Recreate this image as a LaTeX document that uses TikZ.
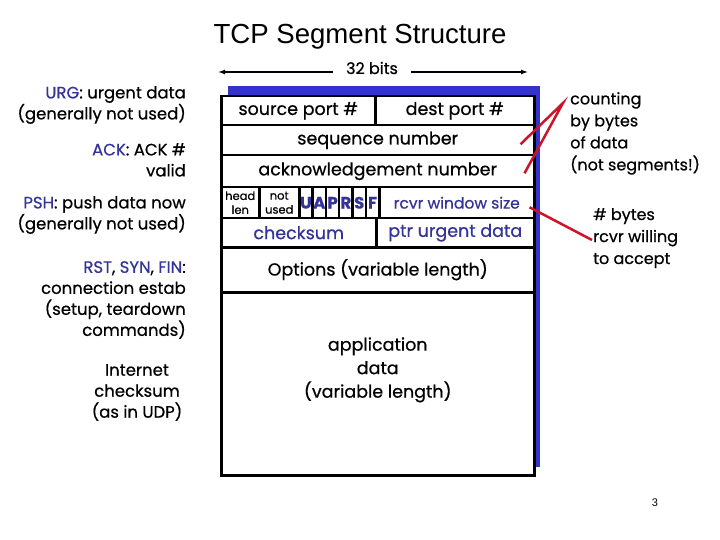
\documentclass[tikz,border=0pt]{standalone}
\usepackage{fontspec}
\setmainfont{Liberation Sans}
\newfontfamily\handfont[FakeBold=0.6]{Poppins}
\usepackage{xcolor}
\usetikzlibrary{arrows.meta, positioning}
\definecolor{flagblue}{RGB}{51,51,153}
\definecolor{shadowblue}{RGB}{51,51,204}
\definecolor{pointred}{RGB}{204,20,40}
\newcommand{\fl}[1]{\textcolor{flagblue}{#1}}
\tikzset{
  field/.style={draw, line width=2.5pt, fill=white, anchor=north west, inner sep=0pt, align=center, font=\handfont\fontsize{17.5}{23.5}\selectfont},
  bluefield/.style={field, text=flagblue},
  flag/.style={field, text=flagblue, minimum width=13.33pt, minimum height=31pt, font=\handfont\bfseries\fontsize{16.5}{18}\selectfont},
  tiny/.style={field, minimum height=31pt, font=\handfont\fontsize{11.5}{14}\selectfont},
  note/.style={align=right, inner sep=0pt, font=\handfont\fontsize{16.5}{21}\selectfont},
  rnote/.style={align=left, anchor=north west, inner sep=0pt, font=\handfont\fontsize{16}{22}\selectfont},
  pointer/.style={pointred, line width=2.5pt},
  span/.style={-{Latex[length=7pt, width=5pt]}, line width=1.3pt}
}

\begin{document}
\begin{tikzpicture}[x=1pt, y=-1pt]
    \useasboundingbox (0,0) rectangle (720,540);
    \node[font=\fontsize{27.6}{30}\selectfont] (title) at (360,37) {TCP Segment Structure};
    \node[font=\handfont\fontsize{16}{18}\selectfont] (bits) at (372,68) {32 bits};
    \coordinate (spanl) at (218,72);
    \coordinate (spanr) at (528,72);
    \draw[span] (bits.west |- spanl) ++(-10pt,0) -- (spanl);
    \draw[span] (bits.east |- spanr) ++(10pt,0) -- (spanr);

    % shadow behind the segment
    \fill[shadowblue] (228,86) rectangle (540,467);

    % header rows
    \node[field, minimum width=154pt, minimum height=29pt] (src) at (220,95) {source port \#};
    \node[field, minimum width=159pt, minimum height=29pt] (dst) at (374,95) {dest port \#};
    \node[field, minimum width=313pt, minimum height=30pt] (seq) at (220,124) {sequence number};
    \node[field, minimum width=313pt, minimum height=32pt] (ack) at (220,154) {acknowledgement number};
    \node[tiny, minimum width=38pt] (hlen) at (220,186) {head\\len};
    \node[tiny, minimum width=40pt] (unused) at (258,186) {not\\used};
    \foreach \f [count=\i from 0] in {U,A,P,R,S,F}
        \node[flag] (flag\f) at ({298+13.33*\i},186) {\f};
    \node[bluefield, minimum width=155pt, minimum height=31pt, font=\handfont\fontsize{15.5}{18}\selectfont] (win) at (378,186) {rcvr window size};
    \node[bluefield, minimum width=155pt, minimum height=29pt] (csum) at (220,217) {checksum};
    \node[bluefield, minimum width=158pt, minimum height=29pt] (urgptr) at (375,217) {ptr urgent data};
    \node[field, minimum width=313pt, minimum height=45pt] (opts) at (220,246) {Options (variable length)};
    \node[field, minimum width=313pt, minimum height=183pt] (appdata) at (220,291) {application\\data\\(variable length)\\[9pt]\mbox{}};

    % flag notes
    \node[note, anchor=north east] (urg) at (186,86) {\fl{URG}: urgent data\\(generally not used)};
    \node[note, anchor=north east] (acknote) at (186,143) {\fl{ACK}: ACK \#\\valid};
    \node[note, anchor=north east] (psh) at (186,196) {\fl{PSH}: push data now\\(generally not used)};
    \node[note, anchor=north east] (rst) at (186,261) {\fl{RST}, \fl{SYN}, \fl{FIN}:\\connection estab\\(setup, teardown\\commands)};
    \node[note, align=center, anchor=north] (inet) at (137,364) {Internet\\checksum\\(as in UDP)};

    % right notes
    \node[rnote] (count) at (570,92) {counting\\by bytes\\of data\\(not segments!)};
    \node[rnote] (willing) at (593,208) {\# bytes\\rcvr willing\\to accept};
    \coordinate (counttip) at (563,103);
    \coordinate (willtip) at (592,240);
    \draw[pointer] ([xshift=-15pt, yshift=-4pt]seq.east) -- (counttip) -- ([xshift=-11pt, yshift=-2pt]ack.east);
    \draw[pointer] ([xshift=-6pt, yshift=-4.5pt]win.east) -- (willtip);

    \node[font=\fontsize{11}{13}\selectfont] (page) at (655,503) {3};
\end{tikzpicture}
\end{document}
